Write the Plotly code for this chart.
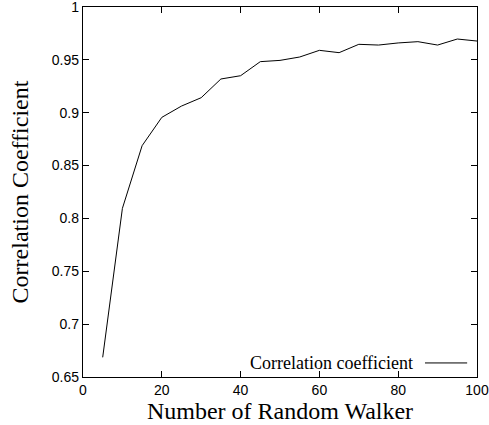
import plotly.graph_objects as go

walkers = [5, 10, 15, 20, 25, 30, 35, 40, 45, 50, 55, 60, 65, 70, 75, 80, 85, 90, 95, 100]
corr = [0.6686, 0.8095, 0.8688, 0.8956, 0.9063, 0.9142, 0.9319, 0.935, 0.9483, 0.9495,
        0.9527, 0.959, 0.9568, 0.9647, 0.964, 0.966, 0.9672, 0.964, 0.9697, 0.9678]
x_ticks = [0, 20, 40, 60, 80, 100]
y_ticks = [0.65, 0.7, 0.75, 0.8, 0.85, 0.9, 0.95, 1]
y_ticklabels = ["0.65", "0.7", "0.75", "0.8", "0.85", "0.9", "0.95", "1"]

fig = go.Figure()
fig.add_trace(go.Scatter(x=walkers, y=corr, mode="lines", name="Correlation coefficient",
                         line=dict(color="black", width=1), showlegend=False))

axis_common = dict(showgrid=False, zeroline=False, showline=True, linecolor="black",
                   linewidth=1.3, mirror="allticks", ticks="inside", ticklen=6,
                   tickcolor="black", tickwidth=1, automargin=False,
                   ticklabeloverflow="allow",
                   tickfont=dict(family="Liberation Sans, Arial", size=14, color="black"))

fig.update_xaxes(range=[0, 100], tickvals=x_ticks,
                 title=dict(text="Number of Random Walker", standoff=0,
                            font=dict(family="Liberation Serif, Times New Roman", size=24, color="black")),
                 **axis_common)
fig.update_yaxes(range=[0.65, 1], tickvals=y_ticks, ticktext=y_ticklabels,
                 title=dict(text="Correlation Coefficient", standoff=16,
                            font=dict(family="Liberation Serif, Times New Roman", size=24, color="black")),
                 **axis_common)

# legend key (text then line sample, as in the original)
fig.add_annotation(x=0.842, y=0.038, xref="paper", yref="paper", xanchor="right", yanchor="middle",
                   text="Correlation coefficient", showarrow=False,
                   font=dict(family="Liberation Serif, Times New Roman", size=18, color="black"))
fig.add_shape(type="line", xref="paper", yref="paper", x0=0.868, x1=0.975, y0=0.038, y1=0.038,
              line=dict(color="black", width=1))

fig.update_layout(width=489, height=425, margin=dict(l=83, r=12, t=7, b=48),
                  plot_bgcolor="white", paper_bgcolor="white")

fig.write_html("out.html")
